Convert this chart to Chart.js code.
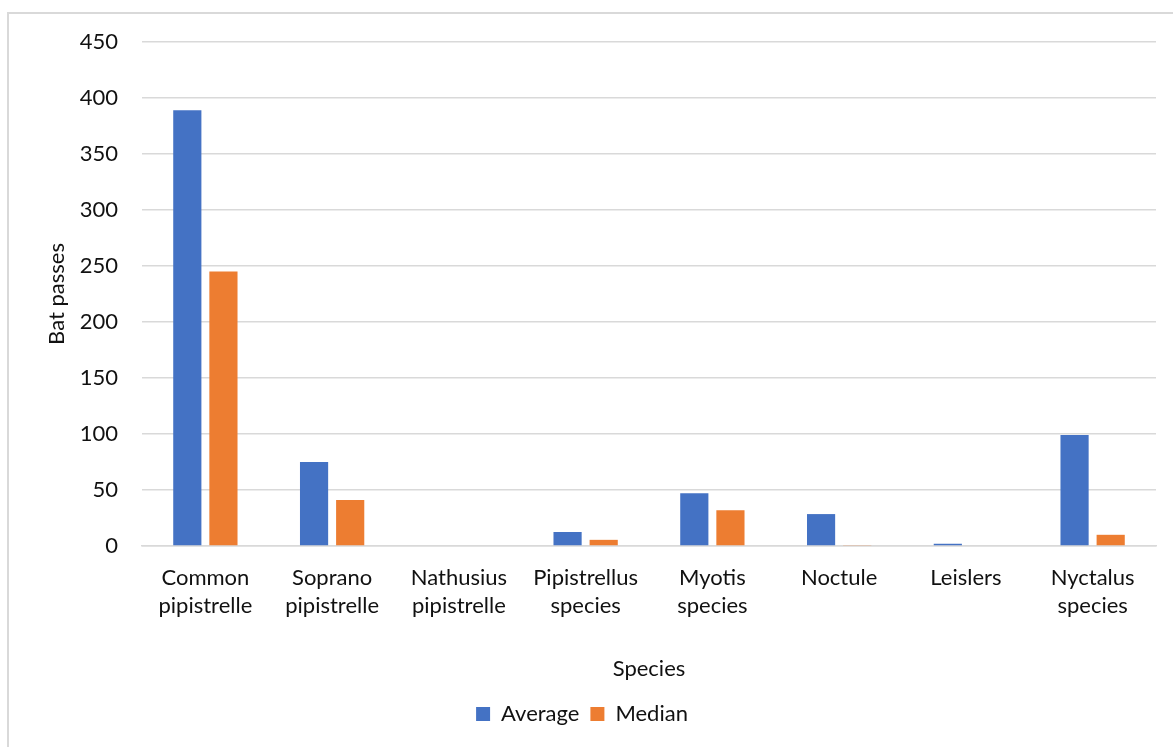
<!DOCTYPE html>
<html>
<head>
<meta charset="utf-8">
<script src="https://cdn.jsdelivr.net/npm/chart.js@4"></script>
<style>
  html, body { margin: 0; padding: 0; background: #fff; }
  #wrap { position: relative; width: 1173px; height: 747px; overflow: hidden; }
  #frame { position: absolute; left: 7px; top: 12px; width: 1200px; height: 800px;
           border-left: 2px solid #d9d9d9; border-top: 2px solid #d9d9d9; box-sizing: border-box; }
  canvas { position: absolute; left: 0; top: 0; }
</style>
</head>
<body>
<div id="wrap">
  <div id="frame"></div>
  <canvas id="chart" width="1173" height="747"></canvas>
</div>
<script>
// Bat passes per species
const categories = [
  ["Common", "pipistrelle"],
  ["Soprano", "pipistrelle"],
  ["Nathusius", "pipistrelle"],
  ["Pipistrellus", "species"],
  ["Myotis", "species"],
  ["Noctule"],
  ["Leislers"],
  ["Nyctalus", "species"]
];
const averagePasses = [389, 75, 0, 12.5, 47, 28.5, 2, 99];
const medianPasses = [245, 41, 0, 5.5, 32, 0.5, 0, 10];
const yTicks = [0, 50, 100, 150, 200, 250, 300, 350, 400, 450];

const FONT = "Lato, 'Open Sans', sans-serif";
const TEXT = "#111111";
const GRID = "#d9d9d9";
const SIZE = 22;

new Chart(document.getElementById("chart"), {
  type: "bar",
  data: {
    labels: categories,
    datasets: [
      { label: "Average", data: averagePasses, backgroundColor: "#4472C4",
        barPercentage: 0.78, categoryPercentage: 0.57 },
      { label: "Median", data: medianPasses, backgroundColor: "#ED7D31",
        barPercentage: 0.78, categoryPercentage: 0.57 }
    ]
  },
  options: {
    responsive: false,
    animation: false,
    layout: { padding: { left: 8, right: 17, top: 42, bottom: 12 } },
    plugins: {
      tooltip: { enabled: false },
      legend: {
        position: "bottom",
        labels: {
          color: TEXT,
          font: { family: FONT, size: SIZE },
          boxWidth: 14, boxHeight: 14,
          padding: 11
        }
      }
    },
    scales: {
      x: {
        grid: { display: false, drawTicks: false },
        border: { display: true, color: GRID, width: 1.5 },
        ticks: {
          color: TEXT, font: { family: FONT, size: SIZE, lineHeight: 1.27 },
          padding: 18, maxRotation: 0, autoSkip: false
        },
        title: {
          display: true, text: "Species", color: TEXT,
          font: { family: FONT, size: SIZE },
          padding: { top: 0, bottom: 10 }
        },
        afterFit: (s) => { s.height = 146; }
      },
      y: {
        min: 0, max: 450,
        afterBuildTicks: (s) => { s.ticks = yTicks.map(v => ({ value: v })); },
        grid: { color: GRID, lineWidth: 1.5, drawTicks: false },
        border: { display: false },
        ticks: { color: TEXT, font: { family: FONT, size: SIZE }, padding: 24 },
        title: {
          display: true, text: "Bat passes", color: TEXT,
          font: { family: FONT, size: SIZE },
          padding: { top: 36, bottom: 0 }
        },
        afterFit: (s) => { s.width = 134; }
      }
    }
  }
});
</script>
</body>
</html>
